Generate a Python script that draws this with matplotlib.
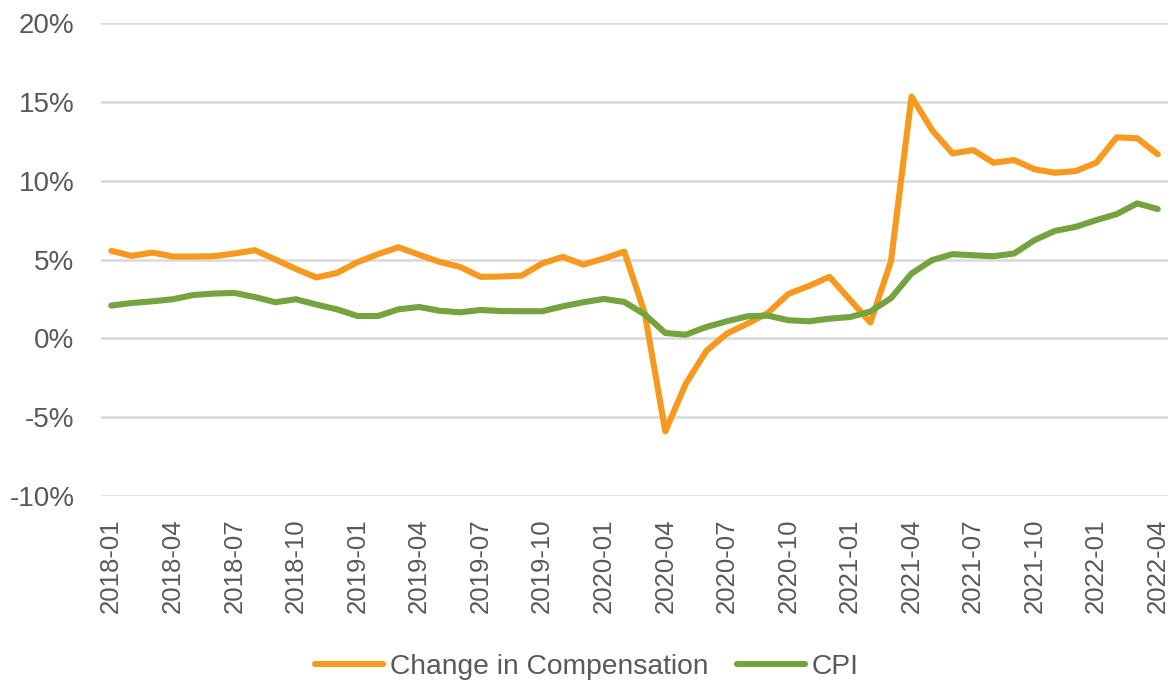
import matplotlib
matplotlib.use("Agg")
import matplotlib.pyplot as plt
import numpy as np

# monthly categories 2018-01 .. 2022-04
months = [f"{y}-{m:02d}" for y in range(2018, 2023) for m in range(1, 13)][:52]

compensation = [5.55, 5.23, 5.44, 5.19, 5.19, 5.21, 5.38, 5.59, 5.0, 4.4,
                3.86, 4.15, 4.83, 5.34, 5.78, 5.3, 4.85, 4.53, 3.9, 3.92,
                3.98, 4.75, 5.17, 4.68, 5.06, 5.5, 1.6, -5.9, -2.88, -0.8,
                0.3, 0.93, 1.61, 2.82, 3.32, 3.9, 2.45, 1.0, 4.9, 15.33,
                13.21, 11.73, 11.94, 11.14, 11.31, 10.72, 10.5, 10.61, 11.14, 12.75,
                12.69, 11.67]

cpi = [2.08, 2.24, 2.35, 2.48, 2.75, 2.84, 2.88, 2.62, 2.29, 2.48,
       2.14, 1.84, 1.42, 1.42, 1.84, 1.99, 1.75, 1.65, 1.8, 1.73,
       1.72, 1.72, 2.03, 2.29, 2.5, 2.31, 1.52, 0.34, 0.23, 0.72,
       1.08, 1.4, 1.44, 1.15, 1.08, 1.25, 1.35, 1.7, 2.55, 4.11,
       4.96, 5.34, 5.27, 5.21, 5.38, 6.23, 6.82, 7.07, 7.5, 7.88,
       8.56, 8.2]

yticks = [-10, -5, 0, 5, 10, 15, 20]

plt.rcParams['font.family'] = ['Liberation Sans', 'DejaVu Sans']
text_color = '#595959'

fig = plt.figure(figsize=(11.74, 6.85), dpi=100)
ax = fig.add_axes([0.086, 0.2759, 0.9089, 0.6905])

x = np.arange(len(months))
ax.plot(x, compensation, color='#F7991F', linewidth=4.4,
        solid_capstyle='round', solid_joinstyle='round',
        label='Change in Compensation', zorder=3)
ax.plot(x, cpi, color='#74A33F', linewidth=4.4,
        solid_capstyle='round', solid_joinstyle='round',
        label='CPI', zorder=3)

ax.set_xlim(-0.5, len(months) - 0.5)
ax.set_ylim(-10, 20)
ax.set_yticks(yticks)
ax.set_yticklabels([f"{v}%" for v in yticks])
ax.set_xticks(x[::3])
ax.set_xticklabels(months[::3], rotation=90)

ax.grid(axis='y', color='#D9D9D9', linewidth=1.8, zorder=0)
ax.set_axisbelow(True)
for s in ax.spines.values():
    s.set_visible(False)
ax.tick_params(axis='y', length=0, pad=19, labelsize=20, labelcolor=text_color)
ax.tick_params(axis='x', length=0, pad=16, labelsize=18.5, labelcolor=text_color)

leg = fig.legend(loc='center', bbox_to_anchor=(0.5, 0.026), ncol=2,
                 frameon=False, fontsize=20.3, handlelength=2.4,
                 handletextpad=0.25, columnspacing=1.0)
for t in leg.get_texts():
    t.set_color(text_color)

fig.savefig('out.png', dpi=100)
